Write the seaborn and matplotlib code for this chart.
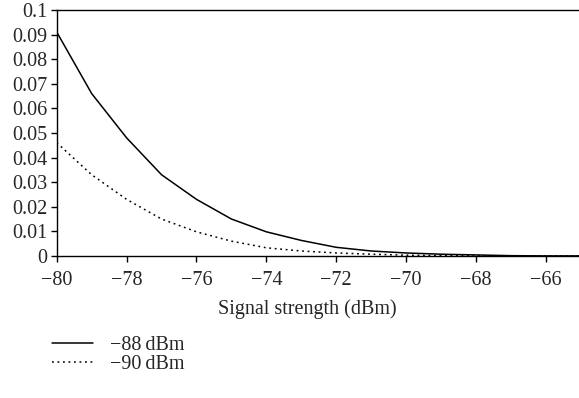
import numpy as np
import pandas as pd
import seaborn as sns
import matplotlib.pyplot as plt
from matplotlib.lines import Line2D

# ---------- DATA
signal = [-80, -79, -78, -77, -76, -75, -74, -73, -72, -71, -70, -69, -68, -67, -66, -65]
p_88 = [0.091, 0.066, 0.048, 0.033, 0.023, 0.015, 0.0098, 0.0063, 0.0035, 0.002,
        0.0012, 0.0007, 0.0004, 0.0001, 0.0, 0.0]
p_90 = [0.046, 0.033, 0.023, 0.015, 0.0098, 0.006, 0.0033, 0.002, 0.0012, 0.0007,
        0.0003, 0.0001, 0.0, 0.0, 0.0, 0.0]
labels = ["\u221288\u2009dBm", "\u221290\u2009dBm"]
xticks = [-80, -78, -76, -74, -72, -70, -68, -66]

df = pd.DataFrame({"signal": signal * 2,
                   "p": p_88 + p_90,
                   "series": [labels[0]] * len(signal) + [labels[1]] * len(signal)})

# ---------- STYLE
sns.set_theme(style="white")
plt.rcParams['font.family'] = ['Liberation Serif', 'DejaVu Serif']

fig = plt.figure(figsize=(5.79, 3.98), dpi=100)
ax = fig.add_axes([0.098, 0.357, 0.905, 0.618])

sns.lineplot(data=df, x="signal", y="p", hue="series", style="series",
             palette=["black", "black"], dashes=[(None, None), (1.2, 2.4)],
             linewidth=1.1, ax=ax, legend=False)

ax.set_xlim(-80, -65)
ax.set_ylim(0, 0.1)
ax.set_xticks(xticks)
ax.set_xticklabels([f"\u2212{abs(v)}" for v in xticks])
ax.set_yticks(np.arange(0, 0.101, 0.01))
ax.set_yticklabels(["0"] + [f"{v:.2f}" for v in np.arange(0.01, 0.1, 0.01)] + ["0.1"])
ax.tick_params(axis="both", labelsize=14.5, direction="out", length=4, width=1,
               bottom=True, left=True, color="black")
ax.tick_params(axis="x", pad=7)
ax.tick_params(axis="y", pad=3)
ax.set_xlabel("Signal strength (dBm)", fontsize=14.5)
ax.xaxis.set_label_coords(0.479, -0.175)
ax.set_ylabel("")

for side in ["left", "bottom", "top"]:
    ax.spines[side].set_color("black")
    ax.spines[side].set_linewidth(1)
ax.spines["right"].set_visible(False)

# Legend below plot
handles = [Line2D([], [], color="black", lw=1.1),
           Line2D([], [], color="black", lw=1.1, dashes=(1.2, 2.4))]
fig.legend(handles, labels, loc="upper left", bbox_to_anchor=(0.09, 0.155),
           frameon=False, fontsize=14.5, handlelength=2.05, handletextpad=0.8,
           labelspacing=-0.02, borderaxespad=0, borderpad=0)

fig.savefig("out.png", dpi=100)
